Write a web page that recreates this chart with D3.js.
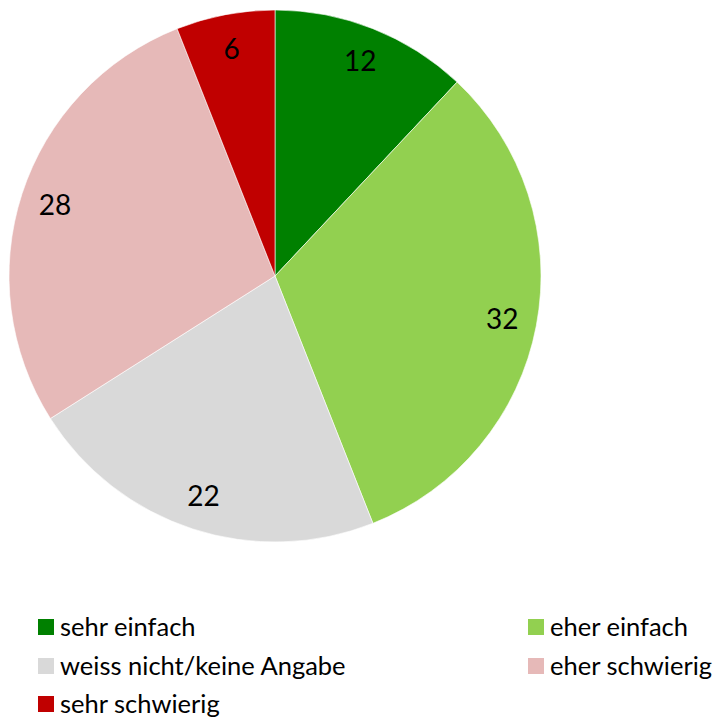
<!DOCTYPE html>
<html>
<head>
<meta charset="utf-8">
<script src="https://cdn.jsdelivr.net/npm/d3@7.9.0/dist/d3.min.js"></script>
<style>
  body { margin: 0; background: #fff; }
  text { font-family: Lato, "Open Sans", sans-serif; }
</style>
</head>
<body>
<div id="chart"></div>
<script>
// data
const categories = ["sehr einfach", "eher einfach", "weiss nicht/keine Angabe", "eher schwierig", "sehr schwierig"];
const values = [12, 32, 22, 28, 6];
const colors = ["#008000", "#92D050", "#D9D9D9", "#E6B9B8", "#C00000"];

const W = 717, H = 717;
const cx = 275, cy = 276, R = 266;

const svg = d3.select("#chart").append("svg")
  .attr("width", W)
  .attr("height", H);

const color = d3.scaleOrdinal().domain(categories).range(colors);

const data = categories.map((c, i) => ({ cat: c, value: values[i] }));

const pie = d3.pie().sort(null).value(d => d.value);
const arc = d3.arc().innerRadius(0).outerRadius(R);
const labelArc = d3.arc().innerRadius(R * 0.87).outerRadius(R * 0.87);

const g = svg.append("g").attr("transform", `translate(${cx},${cy})`);

const slices = g.selectAll("g.slice")
  .data(pie(data))
  .join("g")
    .attr("class", "slice");

slices.append("path")
  .attr("d", arc)
  .attr("fill", d => color(d.data.cat))
  .attr("stroke", "#fff")
  .attr("stroke-width", 0.6);

slices.append("text")
  .attr("transform", d => `translate(${labelArc.centroid(d)})`)
  .attr("text-anchor", "middle")
  .attr("dy", "0.36em")
  .style("font-size", "28px")
  .attr("fill", "#000")
  .text(d => d.data.value);

// legend: two columns
const legendX = [38, 528];
const legendY = [627, 666, 704];

const legend = svg.append("g").attr("class", "legend");

const items = legend.selectAll(".legend-item")
  .data(categories)
  .join("g")
    .attr("class", "legend-item")
    .attr("transform", (d, i) => `translate(${legendX[i % 2]},${legendY[Math.floor(i / 2)]})`);

items.append("rect")
  .attr("x", 0)
  .attr("y", -8)
  .attr("width", 16)
  .attr("height", 16)
  .attr("fill", color);

items.append("text")
  .attr("x", 22)
  .attr("dy", "0.36em")
  .style("font-size", "25.5px")
  .attr("fill", "#000")
  .text(d => d);
</script>
</body>
</html>
